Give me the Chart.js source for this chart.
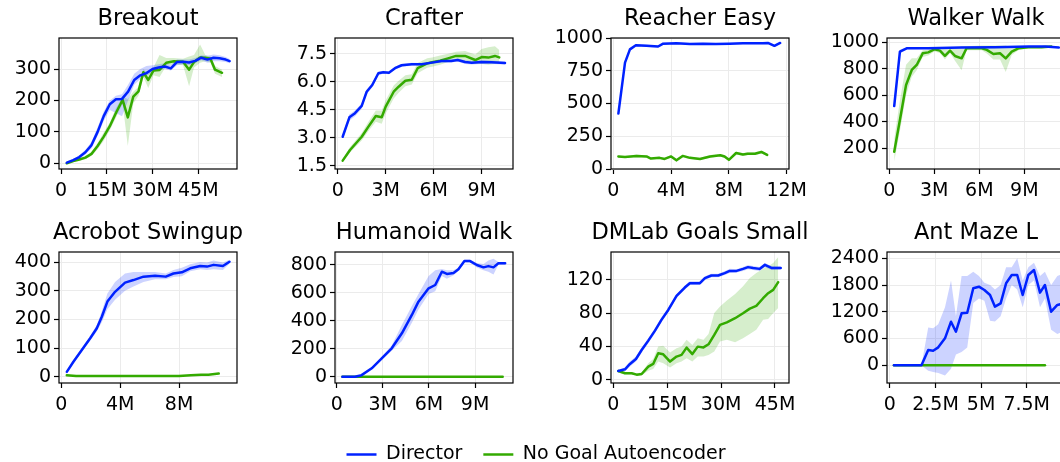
<!DOCTYPE html>
<html>
<head>
<meta charset="utf-8">
<script src="https://cdn.jsdelivr.net/npm/chart.js@4.4.0/dist/chart.umd.min.js"></script>
<style>
  html, body { margin: 0; padding: 0; background: #fff; width: 1060px; height: 462px; overflow: hidden; }
  canvas { position: absolute; }
</style>
</head>
<body>
<script>
// ---- data (x in millions of steps) ----
const seriesNames = ['Director', 'No Goal Autoencoder'];

// Breakout
const breakoutXTicks = [0, 15, 30, 45];
const breakoutYTicks = [0, 100, 200, 300];
const breakoutDirX  = [1.9, 4, 6, 8, 10, 12, 14, 16, 18, 20, 22, 24, 26, 28, 30, 32, 34, 36, 38, 40, 42, 44, 46, 48, 50, 52, 54, 55.3];
const breakoutDir   = [2, 10, 20, 35, 58, 100, 150, 188, 204, 205, 228, 265, 280, 287, 300, 305, 308, 302, 322, 323, 321, 326, 336, 330, 336, 334, 330, 325];
const breakoutDirLo = [0, 6, 15, 28, 48, 88, 135, 170, 160, 150, 200, 250, 268, 278, 290, 297, 300, 295, 312, 315, 312, 318, 328, 320, 325, 325, 322, 318];
const breakoutDirHi = [5, 14, 26, 43, 68, 115, 165, 200, 215, 220, 250, 285, 300, 310, 312, 315, 318, 312, 330, 330, 330, 335, 344, 342, 346, 344, 338, 332];
const breakoutNgaX  = [1.9, 4, 6, 8, 10, 12, 14, 16, 18, 20.2, 21.9, 23.7, 25.4, 27, 28.6, 30.3, 32.3, 34.5, 37, 40, 42, 43.6, 45.6, 47.3, 49, 50.5, 52.8];
const breakoutNga   = [0, 7, 12, 18, 30, 55, 85, 118, 160, 202, 146, 212, 229, 290, 265, 295, 297, 320, 325, 323, 298, 322, 337, 336, 333, 298, 288];
const breakoutNgaLo = [0, 4, 8, 13, 24, 45, 72, 105, 145, 190, 55, 190, 215, 275, 240, 280, 275, 310, 315, 312, 245, 305, 320, 325, 320, 285, 275];
const breakoutNgaHi = [3, 10, 16, 24, 36, 65, 98, 130, 175, 212, 205, 228, 243, 300, 285, 305, 345, 335, 335, 333, 340, 345, 378, 345, 340, 310, 298];

// Crafter
const crafterXTicks = [0, 3, 6, 9];
const crafterYTicks = [1.5, 3.0, 4.5, 6.0, 7.5];
const crafterDirX  = [0.31, 0.73, 1.08, 1.5, 1.81, 2.16, 2.54, 2.85, 3.2, 3.58, 4.0, 4.63, 5.25, 5.88, 6.5, 7.1, 7.5, 7.96, 8.38, 9.0, 9.63, 10.46];
const crafterDir   = [3.05, 4.09, 4.31, 4.7, 5.46, 5.82, 6.45, 6.5, 6.48, 6.72, 6.88, 6.93, 6.93, 7.02, 7.11, 7.11, 7.16, 7.05, 7.02, 7.05, 7.04, 7.0];
const crafterDirLo = [2.97, 3.9, 4.15, 4.55, 5.33, 5.7, 6.35, 6.42, 6.4, 6.64, 6.8, 6.85, 6.86, 6.95, 7.03, 7.03, 7.08, 6.95, 6.92, 6.95, 6.95, 6.92];
const crafterDirHi = [3.13, 4.25, 4.45, 4.85, 5.58, 5.94, 6.55, 6.58, 6.56, 6.8, 6.96, 7.01, 7.0, 7.09, 7.19, 7.19, 7.24, 7.15, 7.12, 7.15, 7.13, 7.08];
const crafterNgaX  = [0.31, 0.77, 1.5, 1.92, 2.38, 2.75, 3.0, 3.5, 3.81, 4.23, 4.63, 5.0, 5.6, 5.9, 6.4, 6.9, 7.4, 7.96, 8.6, 9.0, 9.42, 9.83, 10.1];
const crafterNga   = [1.77, 2.34, 3.05, 3.59, 4.16, 4.09, 4.66, 5.46, 5.73, 6.05, 6.1, 6.72, 6.98, 7.04, 7.12, 7.25, 7.38, 7.38, 7.16, 7.32, 7.29, 7.38, 7.3];
const crafterNgaLo = [1.7, 2.2, 2.85, 3.35, 3.85, 3.75, 4.3, 5.1, 5.4, 5.75, 5.85, 6.45, 6.75, 6.8, 6.9, 7.05, 7.15, 7.1, 6.95, 6.95, 6.9, 6.95, 7.0];
const crafterNgaHi = [1.85, 2.5, 3.25, 3.85, 4.45, 4.45, 5.0, 5.8, 6.05, 6.35, 6.4, 7.0, 7.25, 7.3, 7.4, 7.5, 7.6, 7.65, 7.45, 7.75, 7.85, 7.9, 7.7];

// Reacher Easy
const reacherXTicks = [0, 4, 8, 12];
const reacherYTicks = [0, 250, 500, 750, 1000];
const reacherDirX  = [0.35, 0.81, 1.15, 1.56, 2.3, 3.1, 3.45, 4.37, 5.3, 6.2, 7.1, 8.05, 8.97, 10.35, 10.7, 11.15, 11.55];
const reacherDir   = [423, 812, 913, 944, 940, 935, 957, 960, 955, 957, 955, 957, 960, 960, 962, 940, 962];
const reacherDirLo = [415, 800, 900, 936, 932, 927, 949, 953, 948, 950, 948, 950, 953, 953, 955, 930, 955];
const reacherDirHi = [431, 824, 926, 952, 948, 943, 965, 967, 962, 964, 962, 964, 967, 967, 969, 950, 969];
const reacherNgaX  = [0.35, 0.81, 1.6, 2.3, 2.6, 3.2, 3.55, 4.0, 4.37, 4.8, 5.3, 6.0, 6.7, 7.4, 7.7, 8.0, 8.5, 8.97, 9.3, 9.8, 10.25, 10.65];
const reacherNga   = [96, 92, 100, 96, 80, 85, 77, 96, 66, 100, 85, 77, 96, 105, 96, 70, 122, 110, 117, 117, 130, 107];
const reacherNgaLo = [88, 84, 90, 88, 72, 76, 68, 86, 58, 90, 76, 68, 86, 95, 86, 62, 110, 100, 106, 106, 118, 98];
const reacherNgaHi = [104, 100, 110, 104, 88, 94, 86, 106, 74, 110, 94, 86, 106, 115, 106, 78, 134, 120, 128, 128, 142, 116];

// Walker Walk
const walkerXTicks = [0, 3, 6, 9];
const walkerYTicks = [200, 400, 600, 800, 1000];
const walkerDirX  = [0.33, 0.71, 1.16, 2.6, 4.8, 7.05, 9.3, 10.4, 11.3];
const walkerDir   = [519, 929, 955, 955, 960, 963, 968, 968, 960];
const walkerDirLo = [505, 915, 948, 950, 955, 958, 963, 963, 955];
const walkerDirHi = [533, 943, 962, 960, 965, 968, 973, 973, 965];
const walkerNgaX  = [0.33, 0.71, 1.12, 1.5, 1.83, 2.23, 2.6, 3.0, 3.38, 3.71, 4.05, 4.38, 4.82, 5.15, 6.16, 6.5, 6.94, 7.38, 7.76, 8.16, 8.6, 9.27, 10.16, 10.8];
const walkerNga   = [174, 414, 678, 791, 829, 917, 924, 947, 937, 897, 937, 897, 879, 955, 955, 943, 912, 917, 879, 929, 955, 963, 963, 968];
const walkerNgaLo = [100, 330, 600, 740, 790, 890, 900, 930, 920, 870, 920, 860, 790, 940, 940, 915, 870, 870, 775, 905, 940, 955, 955, 960];
const walkerNgaHi = [270, 560, 830, 880, 880, 940, 945, 965, 960, 950, 960, 955, 970, 970, 975, 975, 975, 975, 975, 960, 965, 970, 970, 975];

// Acrobot Swingup
const acrobotXTicks = [0, 4, 8];
const acrobotYTicks = [0, 100, 200, 300, 400];
const acrobotDirX  = [0.37, 0.82, 1.39, 1.96, 2.41, 2.75, 3.13, 3.65, 4.33, 4.9, 5.58, 6.37, 7.1, 7.62, 8.19, 8.76, 9.44, 9.9, 10.35, 10.98, 11.43];
const acrobotDir   = [17, 52, 93, 134, 169, 209, 262, 296, 328, 337, 349, 352, 349, 360, 364, 378, 386, 384, 390, 386, 401];
const acrobotDirLo = [12, 46, 86, 126, 158, 190, 235, 268, 300, 315, 330, 340, 340, 348, 350, 368, 375, 372, 375, 372, 394];
const acrobotDirHi = [22, 58, 100, 142, 180, 228, 290, 330, 360, 365, 365, 365, 360, 372, 380, 392, 400, 398, 405, 398, 408];
const acrobotNgaX  = [0.37, 1, 2, 3, 4, 5, 6, 7, 8, 8.8, 9.5, 10, 10.7];
const acrobotNga   = [5, 2, 2, 2, 2, 2, 2, 2, 2, 5, 7, 7, 11];
const acrobotNgaLo = [3, 1, 1, 1, 1, 1, 1, 1, 1, 3, 5, 5, 9];
const acrobotNgaHi = [7, 3, 3, 3, 3, 3, 3, 3, 3, 7, 9, 9, 13];

// Humanoid Walk
const humanoidXTicks = [0, 3, 6, 9];
const humanoidYTicks = [0, 200, 400, 600, 800];
const humanoidDirX  = [0.37, 1.19, 1.62, 2.28, 2.93, 3.58, 4.24, 4.89, 5.32, 5.98, 6.41, 6.84, 7.17, 7.6, 7.92, 8.31, 8.68, 9.12, 9.55, 9.87, 10.2, 10.52, 10.96];
const humanoidDir   = [0, 0, 11, 60, 131, 203, 310, 441, 536, 631, 655, 750, 734, 741, 767, 826, 826, 798, 781, 790, 781, 810, 810];
const humanoidDirLo = [0, 0, 6, 52, 120, 185, 255, 385, 480, 590, 610, 720, 700, 725, 755, 815, 815, 780, 760, 750, 730, 800, 800];
const humanoidDirHi = [0, 2, 16, 68, 142, 222, 370, 505, 590, 720, 760, 770, 760, 760, 780, 835, 835, 812, 805, 830, 842, 820, 820];
const humanoidNgaX  = [0.37, 2, 4, 6, 8, 10, 10.8];
const humanoidNga   = [0, 0, 0, 0, 0, 0, 0];

// DMLab Goals Small
const dmlabXTicks = [0, 15, 30, 45];
const dmlabYTicks = [0, 40, 80, 120];
const dmlabDirX  = [1.39, 3.25, 4.64, 6.31, 7.89, 9.74, 11.6, 13.4, 15.3, 17.6, 19.9, 21.3, 24.1, 25.5, 27.3, 29.2, 31.0, 32.4, 34.3, 36.1, 37.5, 38.9, 40.7, 42.2, 44.0, 46.6];
const dmlabDir   = [10.8, 12.8, 19.2, 25.1, 35.9, 47.1, 59.1, 71.9, 83.8, 100.6, 110.6, 115.8, 115.8, 121.8, 125, 125, 127.8, 130.5, 130.5, 132.9, 135, 134, 132.9, 137.7, 134, 134];
const dmlabDirLo = [9.5, 10.5, 16, 22, 33, 44, 56, 69, 81, 98, 108, 113.5, 113.5, 119.5, 123, 123, 125.5, 128, 128.5, 130.5, 132.5, 131.5, 130.5, 135, 131.5, 132];
const dmlabDirHi = [12, 15, 22.5, 28, 39, 50, 62, 75, 86.5, 103, 113, 118, 118, 124, 127, 127, 130, 133, 132.5, 135.3, 137.5, 136.5, 135.3, 140, 136.5, 136];
const dmlabNgaX  = [1.39, 3.25, 5.1, 6.5, 7.89, 9.74, 11.1, 12.5, 13.9, 15.8, 17.6, 19.0, 20.4, 22.0, 23.5, 25.1, 26.5, 28.1, 29.7, 31.6, 33.9, 36.1, 38.0, 39.8, 41.7, 43.1, 44.5, 45.9];
const dmlabNga   = [10.8, 8, 8, 6.4, 7.2, 16, 19.2, 32, 30.7, 22, 28, 30, 38.7, 31, 39.9, 39, 42.7, 53.9, 65.9, 69, 73.9, 79.8, 85.4, 88.6, 97.8, 103.8, 107.8, 117];
const dmlabNgaLo = [9, 6.5, 6.5, 5, 5.5, 11, 13, 22, 20, 15, 20, 22, 26, 22, 28, 28, 30, 34, 46, 48, 45, 50, 55, 60, 72, 73, 80, 86];
const dmlabNgaHi = [12.5, 9.5, 9.5, 8, 9, 20, 25, 40, 41, 33, 38, 40, 48, 42, 50, 48, 55, 80, 88, 95, 103, 112, 122, 128, 133, 136, 140, 147];

// Ant Maze L
const antXTicks = [0, 2.5, 5, 7.5];
const antYTicks = [0, 600, 1200, 1800, 2400];
const antDirX  = [0.22, 0.6, 1.0, 1.4, 1.73, 2.1, 2.37, 2.65, 3.02, 3.35, 3.62, 3.93, 4.24, 4.57, 4.88, 5.18, 5.49, 5.76, 6.07, 6.37, 6.68, 6.98, 7.28, 7.59, 7.9, 8.23, 8.5, 8.84, 9.18, 9.45];
const antDir   = [0, 0, 0, 0, 0, 343, 328, 403, 605, 978, 754, 1166, 1180, 1727, 1763, 1689, 1577, 1315, 1390, 1839, 2026, 2026, 1577, 2026, 2138, 1629, 1801, 1203, 1353, 1380];
const antDirLo = [0, 0, 0, 0, 0, -120, -150, -170, -230, -80, 240, 300, 400, 1400, 1500, 1450, 1000, 980, 1100, 1500, 1800, 1700, 1300, 1800, 1900, 1300, 1500, 800, 700, 750];
const antDirHi = [0, 0, 0, 0, 0, 850, 830, 920, 1300, 1900, 1100, 2000, 2000, 2100, 2000, 1850, 1800, 1700, 1800, 2200, 2200, 2400, 1900, 2200, 2300, 2000, 2100, 1800, 2000, 2050];
const antNgaX  = [0.22, 2, 4, 6, 8, 8.5];
const antNga   = [0, 0, 0, 0, 0, 0];

// ---- styling ----
const BLUE = '#0022ff', GREEN = '#33aa00';
const BLUE_BAND = 'rgba(0,34,255,0.2)', GREEN_BAND = 'rgba(51,170,0,0.2)';
const FONT = 'DejaVu Sans';
const PAD_L = 60, PAD_R = 25, PAD_T = 32, PAD_B = 45;
Chart.defaults.font.family = FONT;
Chart.defaults.color = '#000';

const panels = [
  { title: 'Breakout', box: [59, 38, 178, 131], x: [-0.66, 57.7], y: [-18.1, 398.7], xt: breakoutXTicks, yt: breakoutYTicks,
    d: [breakoutDirX, breakoutDir, breakoutDirLo, breakoutDirHi], n: [breakoutNgaX, breakoutNga, breakoutNgaLo, breakoutNgaHi] },
  { title: 'Crafter', box: [335, 38, 178, 131], x: [-0.17, 10.96], y: [1.32, 8.34], xt: crafterXTicks, yt: crafterYTicks, yfmt: v => v.toFixed(1),
    d: [crafterDirX, crafterDir, crafterDirLo, crafterDirHi], n: [crafterNgaX, crafterNga, crafterNgaLo, crafterNgaHi] },
  { title: 'Reacher Easy', box: [611, 38, 178, 131], x: [-0.16, 12.16], y: [0, 1000], xt: reacherXTicks, yt: reacherYTicks,
    d: [reacherDirX, reacherDir, reacherDirLo, reacherDirHi], n: [reacherNgaX, reacherNga, reacherNgaLo, reacherNgaHi] },
  { title: 'Walker Walk', box: [887, 38, 178, 131], x: [-0.15, 11.71], y: [43.8, 1032.5], xt: walkerXTicks, yt: walkerYTicks,
    d: [walkerDirX, walkerDir, walkerDirLo, walkerDirHi], n: [walkerNgaX, walkerNga, walkerNgaLo, walkerNgaHi] },
  { title: 'Acrobot Swingup', box: [59, 252, 178, 131], x: [-0.16, 11.94], y: [-22, 434.9], xt: acrobotXTicks, yt: acrobotYTicks,
    d: [acrobotDirX, acrobotDir, acrobotDirLo, acrobotDirHi], n: [acrobotNgaX, acrobotNga, acrobotNgaLo, acrobotNgaHi] },
  { title: 'Humanoid Walk', box: [335, 252, 178, 131], x: [-0.11, 11.47], y: [-45, 890.7], xt: humanoidXTicks, yt: humanoidYTicks,
    d: [humanoidDirX, humanoidDir, humanoidDirLo, humanoidDirHi], n: [humanoidNgaX, humanoidNga] },
  { title: 'DMLab Goals Small', box: [611, 252, 178, 131], x: [-0.64, 48.9], y: [-3.6, 153.1], xt: dmlabXTicks, yt: dmlabYTicks,
    d: [dmlabDirX, dmlabDir, dmlabDirLo, dmlabDirHi], n: [dmlabNgaX, dmlabNga, dmlabNgaLo, dmlabNgaHi] },
  { title: 'Ant Maze L', box: [887, 252, 178, 131], x: [-0.16, 9.6], y: [-397, 2541], xt: antXTicks, yt: antYTicks,
    d: [antDirX, antDir, antDirLo, antDirHi], n: [antNgaX, antNga] },
];

const pts = (xs, ys) => xs.map((x, i) => ({ x: x, y: ys[i] }));

// box round the plot area plus a title centred over it (matplotlib style)
const frame = {
  id: 'frame',
  afterDraw(chart, args, opts) {
    const a = chart.chartArea, ctx = chart.ctx;
    ctx.save();
    ctx.strokeStyle = '#000';
    ctx.lineWidth = 1.2;
    ctx.strokeRect(a.left, a.top, a.right - a.left, a.bottom - a.top);
    ctx.fillStyle = '#000';
    ctx.font = '22.5px "' + FONT + '"';
    ctx.textAlign = 'center';
    ctx.textBaseline = 'middle';
    ctx.fillText(opts.text, (a.left + a.right) / 2, a.top - 19);
    ctx.restore();
  }
};

function lineSet(xs, ys, color) {
  return { data: pts(xs, ys), borderColor: color, borderWidth: 2.5, pointRadius: 0, fill: false,
           tension: 0, borderJoinStyle: 'round', borderCapStyle: 'round' };
}
function bandSets(xs, lo, hi, color) {
  return [
    { data: pts(xs, hi), borderColor: 'transparent', borderWidth: 0, pointRadius: 0, backgroundColor: color, fill: '+1' },
    { data: pts(xs, lo), borderColor: 'transparent', borderWidth: 0, pointRadius: 0, fill: false },
  ];
}

const xfmt = v => v === 0 ? '0' : v + 'M';

panels.forEach(p => {
  const [bx, by, bw, bh] = p.box;
  const cv = document.createElement('canvas');
  const w = PAD_L + bw + PAD_R, h = PAD_T + bh + PAD_B;
  cv.width = w; cv.height = h;
  cv.style.left = (bx - PAD_L) + 'px';
  cv.style.top = (by - PAD_T) + 'px';
  cv.style.width = w + 'px'; cv.style.height = h + 'px';
  document.body.appendChild(cv);

  const datasets = [lineSet(p.d[0], p.d[1], BLUE), lineSet(p.n[0], p.n[1], GREEN)];
  if (p.d[2]) datasets.push(...bandSets(p.d[0], p.d[2], p.d[3], BLUE_BAND));
  if (p.n[2]) datasets.push(...bandSets(p.n[0], p.n[2], p.n[3], GREEN_BAND));

  const grid = { color: '#ebebeb', lineWidth: 1, drawTicks: true, tickColor: '#000', tickLength: 5, tickWidth: 1.2 };
  new Chart(cv, {
    type: 'line',
    data: { datasets },
    options: {
      responsive: false, animation: false, devicePixelRatio: 1,
      layout: { padding: { left: 0, right: PAD_R, top: PAD_T, bottom: 0 } },
      plugins: {
        legend: { display: false },
        tooltip: { enabled: false },
        frame: { text: p.title }
      },
      scales: {
        x: {
          type: 'linear', min: p.x[0], max: p.x[1],
          afterBuildTicks: a => { a.ticks = p.xt.map(v => ({ value: v })); },
          afterFit: s => { s.height = PAD_B; },
          ticks: { callback: xfmt, font: { size: 19 }, color: '#000', padding: 6, maxRotation: 0, autoSkip: false },
          grid: grid, border: { display: false }
        },
        y: {
          type: 'linear', min: p.y[0], max: p.y[1],
          afterBuildTicks: a => { a.ticks = p.yt.map(v => ({ value: v })); },
          afterFit: s => { s.width = PAD_L; },
          ticks: { callback: p.yfmt || (v => String(v)), font: { size: 19 }, color: '#000', padding: 3, autoSkip: false },
          grid: grid, border: { display: false }
        }
      }
    },
    plugins: [frame]
  });
});

// shared legend at the bottom
const lg = document.createElement('canvas');
lg.width = 1072; lg.height = 140;
lg.style.left = '0px'; lg.style.top = '424px';
lg.style.width = '1072px'; lg.style.height = '140px';
document.body.appendChild(lg);
new Chart(lg, {
  type: 'line',
  data: { datasets: [
    { label: seriesNames[0], data: [], borderColor: BLUE, backgroundColor: BLUE, borderWidth: 2.5 },
    { label: seriesNames[1], data: [], borderColor: GREEN, backgroundColor: GREEN, borderWidth: 2.5 }
  ] },
  options: {
    responsive: false, animation: false, devicePixelRatio: 1,
    scales: { x: { display: false }, y: { display: false } },
    plugins: {
      tooltip: { enabled: false },
      legend: { display: true, position: 'top',
        labels: { usePointStyle: true, pointStyle: 'line', pointStyleWidth: 30, boxHeight: 19,
                  font: { size: 19 }, color: '#000', padding: 21 } }
    }
  }
});
</script>
</body>
</html>
